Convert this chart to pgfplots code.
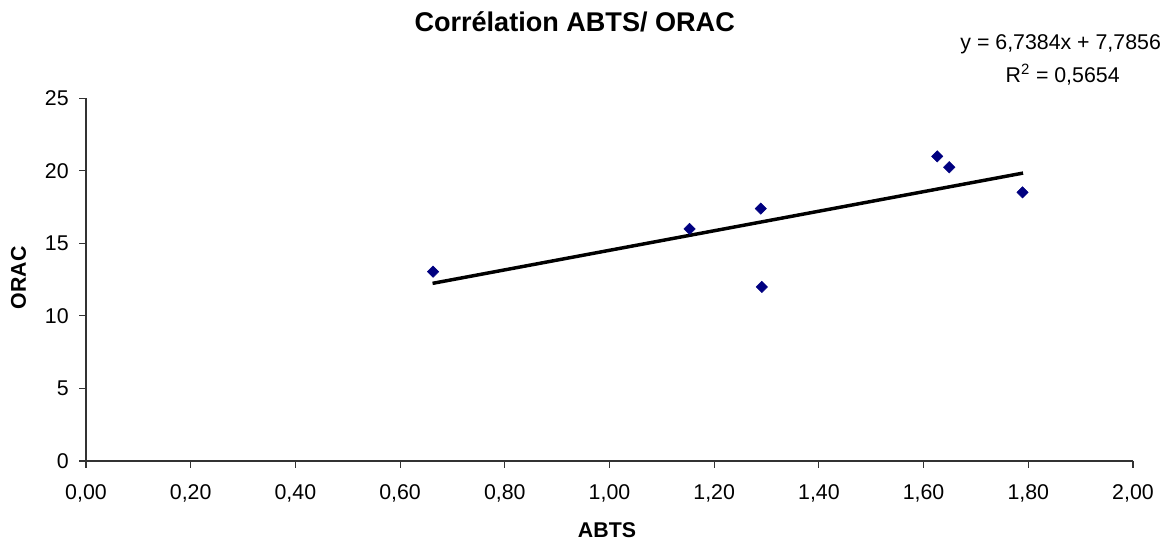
\documentclass[border=0pt]{standalone}
\usepackage{pgfplots}
\pgfplotsset{compat=1.18}
\usepackage{fontspec}
\setmainfont{Liberation Sans}
\definecolor{navyblue}{RGB}{0,0,128}
\begin{document}
\begin{tikzpicture}
\useasboundingbox (-64.5pt,-59.25pt) rectangle (814.5pt,345.75pt);
\begin{axis}[
  scale only axis,
  width=785.25pt, height=272pt,
  xmin=0, xmax=2, ymin=0, ymax=25,
  axis lines*=left,
  axis line style={black!80, line width=0.8pt},
  xtick={0,0.2,...,2.01}, ytick={0,5,...,25},
  tick align=outside,
  major tick length=5pt,
  tick style={black!80, line width=0.8pt},
  /pgf/number format/assume math mode=true,
  xticklabel style={yshift=-9pt, /pgf/number format/.cd, fixed, fixed zerofill, precision=2, use comma},
  yticklabel style={xshift=-4.5pt, /pgf/number format/.cd, fixed, precision=0},
  tick label style={font=\fontsize{16}{19}\selectfont},
  clip=false,
]
\addplot[only marks, mark=square*, mark size=3pt, mark options={rotate=45, line width=0.4pt}, color=navyblue, fill=navyblue] coordinates {
 (0.663,13.05) (1.153,16.0) (1.289,17.4) (1.291,12.0) (1.626,21.0) (1.649,20.25) (1.789,18.52)
};
\addplot[black, line width=2.6pt, no marks] coordinates {
 (0.662,12.246) (1.790,19.848)
};
\end{axis}
\node[anchor=base, font=\fontsize{20.3}{24}\selectfont\bfseries] at (366.5pt,322pt) {Corrélation ABTS/ ORAC};
\node[anchor=base, font=\fontsize{16}{19}\selectfont] at (731pt,308.25pt) {y = 6,7384x + 7,7856};
\node[anchor=base, font=\fontsize{16}{19}\selectfont] at (732.5pt,283.5pt) {R\textsuperscript{2} = 0,5654};
\node[anchor=base, font=\fontsize{16}{19}\selectfont\bfseries] at (390.75pt,-57pt) {ABTS};
\node[anchor=base, rotate=90, font=\fontsize{16}{19}\selectfont\bfseries] at (-45pt,137.5pt) {ORAC};
\end{tikzpicture}
\end{document}
